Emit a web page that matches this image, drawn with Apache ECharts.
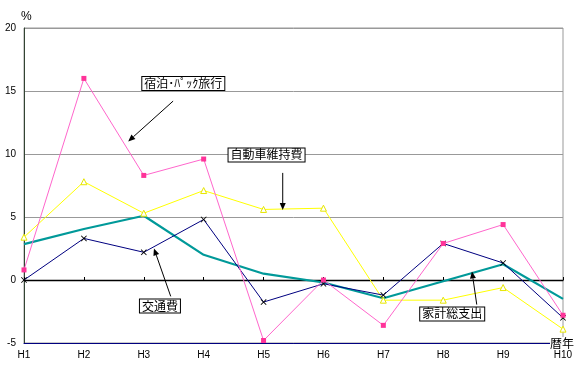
<!DOCTYPE html>
<html><head><meta charset="utf-8">
<script src="https://cdn.jsdelivr.net/npm/echarts@6/dist/echarts.min.js"></script>
<style>html,body{margin:0;padding:0;background:#fff}#c{width:577px;height:366px}</style>
</head><body><div id="c"></div>
<script>
const categories = ['H1','H2','H3','H4','H5','H6','H7','H8','H9','H10'];
const yTicks = [-5, 0, 5, 10, 15, 20];
const travelPack = [0.8, 16.0, 8.3, 9.6, -4.8, 0.0, -3.6, 2.9, 4.4, -2.8];      // 宿泊・パック旅行
const carUpkeep  = [3.4, 7.8, 5.3, 7.1, 5.6, 5.7, -1.6, -1.6, -0.6, -3.9];     // 自動車維持費
const transport  = [0.0, 3.3, 2.2, 4.8, -1.75, -0.3, -1.2, 2.9, 1.35, -3.0];   // 交通費
const household  = [2.85, 4.05, 5.1, 2.0, 0.5, -0.2, -1.45, -0.1, 1.25, -1.5]; // 家計総支出

const chart = echarts.init(document.getElementById('c'), null, {renderer:'canvas'});
const font = 'Arial, "Liberation Sans", sans-serif';
const jp = '"Noto Sans CJK JP", sans-serif';
const xSym = 'path://M0,1L1,0L5,4L9,0L10,1L6,5L10,9L9,10L5,6L1,10L0,9L4,5Z';

chart.setOption({
  animation: false,
  backgroundColor: '#fff',
  grid: {left: 24, right: 14, top: 28, bottom: 23, show: true, borderColor: '#999', borderWidth: 1, backgroundColor: 'transparent'},
  xAxis: [{
    type: 'category', data: categories, boundaryGap: false, position: 'bottom',
    axisLine: {onZero: false, lineStyle: {color: '#000080', width: 1}},
    axisTick: {show: false},
    axisLabel: {color: '#000', fontFamily: font, fontSize: 10, margin: 7},
    splitLine: {show: false}
  }, {
    type: 'category', data: categories, boundaryGap: false, position: 'bottom',
    axisLine: {onZero: true, lineStyle: {color: '#000', width: 1.3}},
    axisTick: {show: true, inside: true, length: 3, lineStyle: {color: '#000'}},
    axisLabel: {show: false},
    splitLine: {show: false}
  }],
  yAxis: {
    type: 'value', min: yTicks[0], max: yTicks[yTicks.length-1], interval: 5,
    axisLine: {show: true, lineStyle: {color: '#334433', width: 1}},
    axisTick: {show: false},
    axisLabel: {color: '#000', fontFamily: font, fontSize: 10, margin: 8},
    splitLine: {show: true, lineStyle: {color: ['#000080','#000','#999','#999','#999','#999'], width: 1}}
  },
  series: [
    {name: '家計総支出', type: 'line', data: household, symbol: 'none',
     lineStyle: {color: '#009999', width: 2.2}, z: 3},
    {name: '自動車維持費', type: 'line', data: carUpkeep, symbol: 'triangle', symbolSize: 6,
     lineStyle: {color: '#ffff00', width: 1}, itemStyle: {color: '#ffffff', borderColor: '#e6e600', borderWidth: 1}, z: 4},
    {name: '交通費', type: 'line', data: transport, symbol: xSym, symbolSize: 6,
     lineStyle: {color: '#000080', width: 1}, itemStyle: {color: '#000'}, z: 5},
    {name: '宿泊・パック旅行', type: 'line', data: travelPack, symbol: 'rect', symbolSize: 5,
     lineStyle: {color: '#ff66cc', width: 1}, itemStyle: {color: '#ff3399'}, z: 6}
  ]
});

// annotations placed in data space (category index, value)
function px(i, v) {
  const a = chart.convertToPixel({xAxisIndex: 0, yAxisIndex: 0}, [0, v]);
  const b = chart.convertToPixel({xAxisIndex: 0, yAxisIndex: 0}, [categories.length-1, v]);
  return [a[0] + (b[0]-a[0]) * i / (categories.length-1), a[1]];
}
const notes = [
  {text: '宿泊･ﾊﾟｯｸ旅行', at: [2.66, 15.6], from: [2.49, 14.2], to: [1.74, 11.0]},
  {text: '自動車維持費', at: [4.05, 9.93], from: [4.32, 8.5], to: [4.32, 5.55]},
  {text: '交通費', at: [2.27, -2.06], from: [2.45, -1.3], to: [2.17, 2.5]},
  {text: '家計総支出', at: [7.15, -2.69], from: [7.56, -1.95], to: [7.48, 0.68]}
];
const g = [];
notes.forEach(n => {
  const p1 = px(n.from[0], n.from[1]), p2 = px(n.to[0], n.to[1]);
  const dx = p2[0]-p1[0], dy = p2[1]-p1[1], L = Math.hypot(dx, dy);
  const ux = dx/L, uy = dy/L, hl = 7, hw = 3;
  const bx = p2[0]-ux*hl, by = p2[1]-uy*hl;
  g.push({type: 'line', shape: {x1: p1[0], y1: p1[1], x2: bx, y2: by}, style: {stroke: '#000', lineWidth: 1}, z: 20});
  g.push({type: 'polygon', shape: {points: [[p2[0], p2[1]], [bx - uy*hw, by + ux*hw], [bx + uy*hw, by - ux*hw]]}, style: {fill: '#000'}, z: 20});
  const c = px(n.at[0], n.at[1]);
  g.push({type: 'text', x: c[0], y: c[1], z: 21,
    style: {text: n.text, fontFamily: jp, fontSize: 12, fill: '#000', align: 'center', verticalAlign: 'middle',
      backgroundColor: '#fff', borderColor: '#000', borderWidth: 1, padding: [0, 2, 0, 2], lineHeight: 13}});
});
const topLeft = px(0, 20);
g.push({type: 'text', x: topLeft[0] - 3, y: topLeft[1] - 17, style: {text: '%', fontFamily: font, fontSize: 12, fill: '#000'}});
const botRight = px(categories.length-1, -5);
g.push({type: 'text', x: botRight[0] - 1, y: botRight[1], z: 22, style: {text: '暦年', fontFamily: jp, fontSize: 12, fill: '#000', align: 'center', verticalAlign: 'middle', backgroundColor: '#fff'}});
chart.setOption({graphic: g});
</script></body></html>
